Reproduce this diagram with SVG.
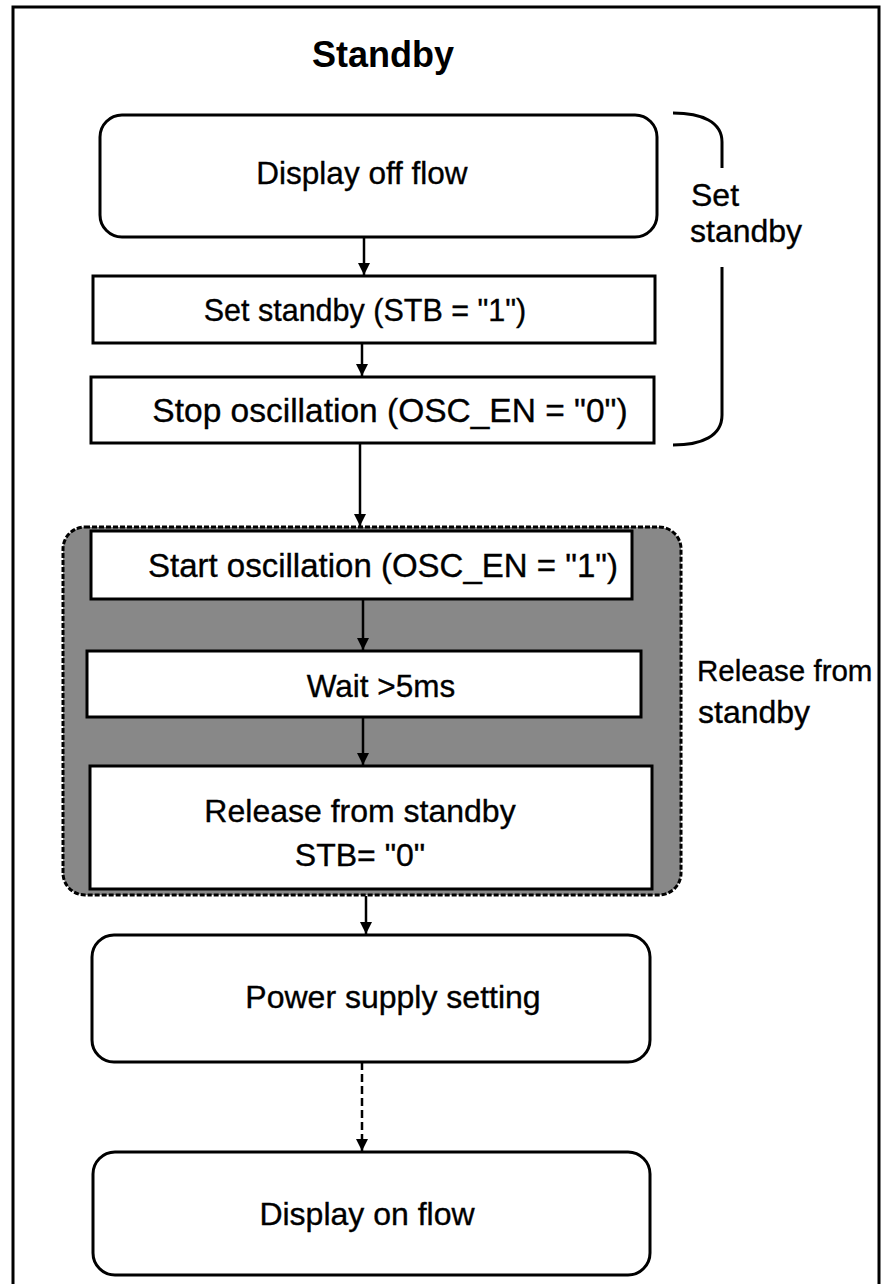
<svg xmlns="http://www.w3.org/2000/svg" width="882" height="1284" viewBox="0 0 882 1284">
<style>
  text { font-family: "Liberation Sans", Arial, sans-serif; fill: #000; stroke: #000; stroke-width: 0.35; }
  .t { font-size: 32px; text-anchor: middle; }
  .side { font-size: 32px; }
  .box { fill: #fff; stroke: #000; stroke-width: 3; }
  .conn { stroke: #000; stroke-width: 2.5; fill: none; }
</style>
<defs>
  <marker id="ah" viewBox="0 0 10 10" refX="10" refY="5" markerWidth="5" markerHeight="5" orient="auto" markerUnits="strokeWidth">
    <path d="M0,0 L10,5 L0,10 Z" fill="#000"/>
  </marker>
</defs>
<rect x="0" y="0" width="882" height="1284" fill="#fff"/>
<rect x="13" y="7" width="866" height="1290" fill="none" stroke="#000" stroke-width="3"/>
<text x="383" y="67" font-size="36" font-weight="bold" text-anchor="middle" style="stroke-width:0">Standby</text>

<g id="bracket">
  <path d="M673,113 C702,113 722,122 722,142 L722,168 M722,267 L722,415 C722,436 702,445 673,445" fill="none" stroke="#000" stroke-width="3"/>
  <text class="side" x="691" y="206">Set</text>
  <text class="side" x="690" y="242">standby</text>
</g>

<g id="release-group">
  <rect x="63" y="527" width="618" height="368" rx="22" fill="#888" stroke="#000" stroke-width="3" stroke-dasharray="5 2"/>
</g>
<g id="release-label">
  <text class="side" x="697" y="681" style="font-size:29.5px">Release from</text>
  <text class="side" x="698" y="723">standby</text>
</g>

<g id="display-off"><rect class="box" x="100" y="115" width="557" height="122" rx="22"/><text class="t" x="362" y="184" style="font-size:31.5px">Display off flow</text></g>
<g id="set-stb"><rect class="box" x="93" y="276" width="562" height="67"/><text class="t" x="365" y="321" style="font-size:30.5px">Set standby (STB = "1")</text></g>
<g id="stop-osc"><rect class="box" x="91" y="377" width="563" height="66"/><text class="t" x="390" y="422" style="font-size:33.5px">Stop oscillation (OSC_EN = "0")</text></g>
<g id="start-osc"><rect class="box" x="91" y="531" width="541" height="68"/><text class="t" x="383" y="577" style="font-size:33px">Start oscillation (OSC_EN = "1")</text></g>
<g id="wait"><rect class="box" x="87" y="651" width="554" height="66"/><text class="t" x="381" y="697" style="font-size:31.5px">Wait &gt;5ms</text></g>
<g id="release"><rect class="box" x="90" y="766" width="562" height="123"/><text class="t" x="360" y="822">Release from standby</text><text class="t" x="360" y="866">STB= "0"</text></g>
<g id="power"><rect class="box" x="92" y="935" width="558" height="127" rx="22"/><text class="t" x="393" y="1008">Power supply setting</text></g>
<g id="display-on"><rect class="box" x="93" y="1152" width="557" height="123" rx="22"/><text class="t" x="367" y="1225">Display on flow</text></g>

<g id="connectors">
  <line class="conn" x1="364" y1="238" x2="364" y2="275" marker-end="url(#ah)"/>
  <line class="conn" x1="362" y1="343" x2="362" y2="376" marker-end="url(#ah)"/>
  <line class="conn" x1="360" y1="443" x2="360" y2="526" stroke-width="3.5" marker-end="url(#ah)"/>
  <line class="conn" x1="363" y1="599" x2="363" y2="650" marker-end="url(#ah)"/>
  <line class="conn" x1="363" y1="717" x2="363" y2="765" marker-end="url(#ah)"/>
  <line class="conn" x1="366" y1="896" x2="366" y2="934" marker-end="url(#ah)"/>
  <line class="conn" x1="362" y1="1062" x2="362" y2="1151" stroke-width="3" stroke-dasharray="8 4" marker-end="url(#ah)"/>
</g>
</svg>
